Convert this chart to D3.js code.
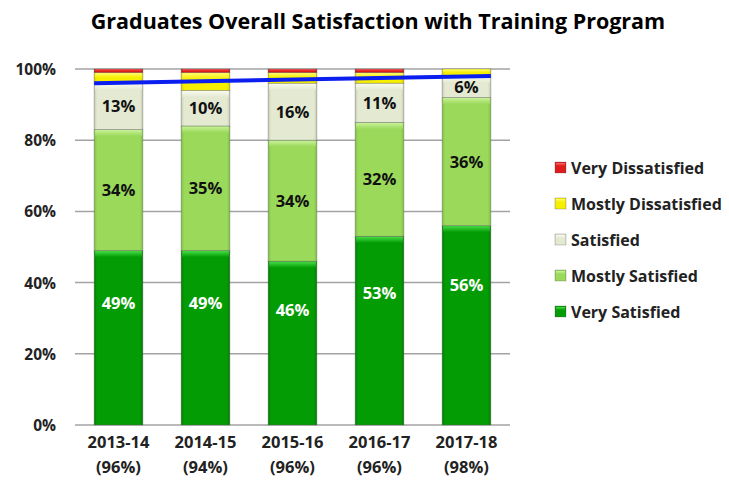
<!DOCTYPE html>
<html>
<head>
<meta charset="utf-8">
<script src="https://cdn.jsdelivr.net/npm/d3@7"></script>
<style>
  html, body { margin: 0; padding: 0; background: #fff; }
  svg text { font-family: "Open Sans", "DejaVu Sans", sans-serif; font-weight: bold; }
</style>
</head>
<body>
<svg></svg>
<script>
//chart data
var years = ['2013-14', '2014-15', '2015-16', '2016-17', '2017-18'];
var overallPct = [96, 94, 96, 96, 98];
var verySatisfied = [49, 49, 46, 53, 56];
var mostlySatisfied = [34, 35, 34, 32, 36];
var satisfied = [13, 10, 16, 11, 6];
var mostlyDissatisfied = [3, 5, 3, 3, 2];
var veryDissatisfied = [1, 1, 1, 1, 0];
var trendEnds = [96, 98];
var yTicks = [0, 20, 40, 60, 80, 100];
var seriesNames = ['Very Satisfied', 'Mostly Satisfied', 'Satisfied', 'Mostly Dissatisfied', 'Very Dissatisfied'];

/*********layout************/
var width = 729;
var height = 489;
var plot = {left: 75, right: 510, top: 69, bottom: 425};
var svg = d3.select('svg')
	.attr('width', width)
	.attr('height', height);

// colours: base, edge (darker), bevel (lighter)
var colors = {
	'Very Satisfied': {base: '#049c04', edge: '#037a03', bevel: '#45dc45', label: '#fff'},
	'Mostly Satisfied': {base: '#9bd95b', edge: '#7fbd45', bevel: '#c8f298', label: '#111'},
	'Satisfied': {base: '#e4ead2', edge: '#c4cbb2', bevel: '#f8faef', label: '#111'},
	'Mostly Dissatisfied': {base: '#f7ef00', edge: '#d8cf00', bevel: '#fffb70', label: '#111'},
	'Very Dissatisfied': {base: '#e01b1b', edge: '#b51212', bevel: '#f36a6a', label: '#fff'}
};

var seriesValues = [verySatisfied, mostlySatisfied, satisfied, mostlyDissatisfied, veryDissatisfied];
var table = years.map(function(y, i) {
	var row = {year: y, overall: overallPct[i]};
	seriesNames.forEach(function(n, k) { row[n] = seriesValues[k][i]; });
	return row;
});
var stacked = d3.stack().keys(seriesNames)(table);

var xScale = d3.scaleBand()
	.domain(years)
	.range([plot.left, plot.right])
	.paddingInner(0.44)
	.paddingOuter(0.22);
var yScale = d3.scaleLinear()
	.domain([0, 100])
	.range([plot.bottom, plot.top]);

//gradients for the bevelled look
var defs = svg.append('defs');
seriesNames.forEach(function(n, k) {
	var c = colors[n];
	var g = defs.append('linearGradient').attr('id', 'grad' + k)
		.attr('x1', 0).attr('x2', 1).attr('y1', 0).attr('y2', 0);
	g.append('stop').attr('offset', '0%').attr('stop-color', c.edge);
	g.append('stop').attr('offset', '6%').attr('stop-color', c.base);
	g.append('stop').attr('offset', '94%').attr('stop-color', c.base);
	g.append('stop').attr('offset', '100%').attr('stop-color', c.edge);
	var b = defs.append('linearGradient').attr('id', 'bev' + k)
		.attr('x1', 0).attr('x2', 0).attr('y1', 0).attr('y2', 1);
	b.append('stop').attr('offset', '0%').attr('stop-color', c.bevel);
	b.append('stop').attr('offset', '100%').attr('stop-color', c.base);
});

//title
svg.append('text')
	.attr('x', 378).attr('y', 29)
	.attr('text-anchor', 'middle')
	.style('font-size', '21.5px')
	.style('fill', '#000')
	.text('Graduates Overall Satisfaction with Training Program');

//gridlines + y labels
var gridG = svg.append('g');
gridG.selectAll('line').data(yTicks).enter().append('line')
	.attr('x1', plot.left).attr('x2', plot.right)
	.attr('y1', function(d) { return yScale(d); })
	.attr('y2', function(d) { return yScale(d); })
	.attr('stroke', '#a3a3a3').attr('stroke-width', 1.5);
gridG.selectAll('text').data(yTicks).enter().append('text')
	.attr('x', 56)
	.attr('y', function(d) { return yScale(d) + 6; })
	.attr('text-anchor', 'end')
	.style('font-size', '15.5px')
	.style('fill', '#222')
	.text(function(d) { return d + '%'; });

//bars
var chartG = svg.append('g');
var bw = xScale.bandwidth();
stacked.forEach(function(layer, k) {
	var g = chartG.append('g');
	layer.forEach(function(d) {
		var h = yScale(d[0]) - yScale(d[1]);
		if (h <= 0) return;
		var x = xScale(d.data.year);
		g.append('rect')
			.attr('x', x).attr('y', yScale(d[1]))
			.attr('width', bw).attr('height', h)
			.attr('fill', 'url(#grad' + k + ')')
			.attr('stroke', 'rgba(90,90,90,0.45)').attr('stroke-width', 0.8);
		var bh = Math.min(6, h * 0.4);
		g.append('rect')
			.attr('x', x + 1).attr('y', yScale(d[1]) + 0.5)
			.attr('width', bw - 2).attr('height', bh)
			.attr('fill', 'url(#bev' + k + ')');
	});
});

//labels (only the three satisfied groups carry labels)
stacked.slice(0, 3).forEach(function(layer, k) {
	var n = seriesNames[k];
	chartG.append('g').selectAll('text').data(layer).enter().append('text')
		.attr('x', function(d) { return xScale(d.data.year) + bw / 2; })
		.attr('y', function(d) {
			// the darkest segment carries its label higher up
			var f = k === 0 ? 0.7 : 0.5;
			return yScale(d[0] + (d[1] - d[0]) * f) + 6;
		})
		.attr('text-anchor', 'middle')
		.style('font-size', '16.5px')
		.style('fill', colors[n].label)
		.text(function(d) { return d.data[n] + '%'; });
});

//trend line of overall satisfaction
var lastYear = years[years.length - 1];
svg.append('line')
	.attr('x1', xScale(years[0])).attr('y1', yScale(trendEnds[0]))
	.attr('x2', xScale(lastYear) + bw).attr('y2', yScale(trendEnds[1]))
	.attr('stroke', '#0a1ef0').attr('stroke-width', 4);

//x labels
var xG = svg.append('g');
table.forEach(function(d) {
	var cx = xScale(d.year) + bw / 2;
	xG.append('text').attr('x', cx).attr('y', 448)
		.attr('text-anchor', 'middle').style('font-size', '16.5px').style('fill', '#222')
		.text(d.year);
	xG.append('text').attr('x', cx).attr('y', 473)
		.attr('text-anchor', 'middle').style('font-size', '16.5px').style('fill', '#222')
		.text('(' + d.overall + '%)');
});

//legend
var legendNames = seriesNames.slice().reverse();
var legG = svg.append('g').attr('transform', 'translate(555,168)');
legendNames.forEach(function(n, i) {
	var k = seriesNames.indexOf(n);
	var row = legG.append('g').attr('transform', 'translate(0,' + (i * 36) + ')');
	row.append('rect').attr('x', 0).attr('y', -6).attr('width', 11).attr('height', 11)
		.attr('fill', 'url(#grad' + k + ')')
		.attr('stroke', 'rgba(90,90,90,0.5)').attr('stroke-width', 0.6);
	row.append('rect').attr('x', 1).attr('y', -5).attr('width', 9).attr('height', 3)
		.attr('fill', 'url(#bev' + k + ')');
	row.append('text').attr('x', 16).attr('y', 6)
		.style('font-size', '16px').style('fill', '#222')
		.text(n);
});
</script>
</body>
</html>
